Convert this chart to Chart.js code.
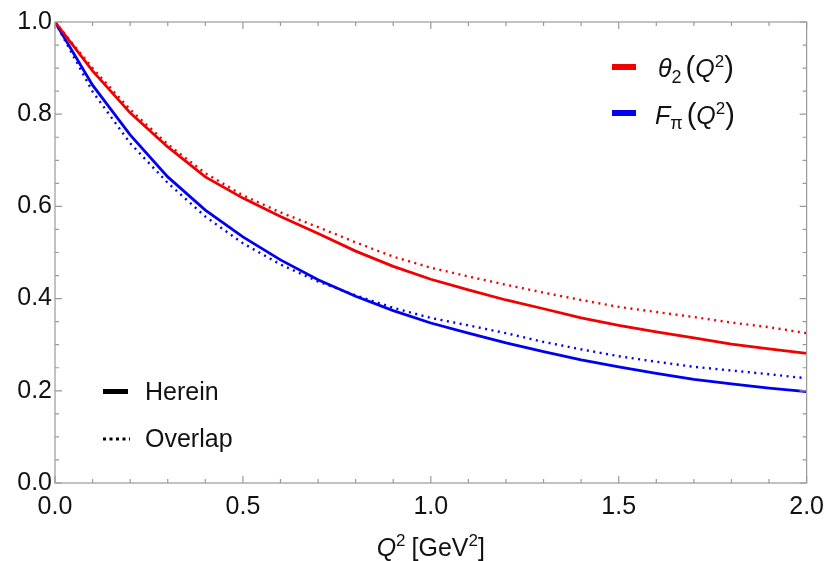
<!DOCTYPE html>
<html>
<head>
<meta charset="utf-8">
<script src="https://cdn.jsdelivr.net/npm/chart.js@4/dist/chart.umd.min.js"></script>
<style>
  html, body { margin: 0; padding: 0; background: #fff; }
  #wrap { width: 833px; height: 561px; }
</style>
</head>
<body>
<div id="wrap"><canvas id="c"></canvas></div>
<script>
// Q^2 grid (GeV^2)
const q2 = [0, 0.1, 0.2, 0.3, 0.4, 0.5, 0.6, 0.7, 0.8, 0.9, 1.0,
            1.1, 1.2, 1.3, 1.4, 1.5, 1.6, 1.7, 1.8, 1.9, 2.0];

// theta_2(Q^2), herein / overlap
const thetaHerein  = [1.0, 0.894, 0.803, 0.729, 0.664, 0.618, 0.578, 0.541, 0.503, 0.470, 0.442,
                      0.419, 0.397, 0.378, 0.358, 0.342, 0.328, 0.315, 0.301, 0.291, 0.281];
const thetaOverlap = [1.0, 0.900, 0.810, 0.735, 0.672, 0.624, 0.587, 0.555, 0.522, 0.491, 0.467,
                      0.448, 0.430, 0.413, 0.397, 0.382, 0.371, 0.360, 0.348, 0.338, 0.325];

// F_pi(Q^2), herein / overlap
const fpiHerein  = [1.0, 0.863, 0.755, 0.664, 0.592, 0.534, 0.484, 0.441, 0.405, 0.374, 0.347,
                    0.325, 0.304, 0.285, 0.267, 0.252, 0.238, 0.225, 0.215, 0.206, 0.198];
const fpiOverlap = [1.0, 0.849, 0.737, 0.651, 0.578, 0.520, 0.474, 0.437, 0.407, 0.380, 0.358,
                    0.342, 0.325, 0.306, 0.290, 0.275, 0.263, 0.252, 0.244, 0.236, 0.227];

const xTicks = [0, 0.5, 1.0, 1.5, 2.0];
const yTicks = [0, 0.2, 0.4, 0.6, 0.8, 1.0];

const RED = '#f00000';
const BLUE = '#0000f0';
const FONT = '"Liberation Sans", Arial, sans-serif';
const FS = 25;

function pts(ys) {
    return q2.map((x, i) => ({ x: x, y: ys[i] }));
}

// draws a run of text pieces (font, offset) one after another
function rich(ctx, x, y, parts, measureOnly) {
    let cx = x;
    parts.forEach(p => {
        ctx.font = p.f;
        if (!measureOnly) ctx.fillText(p.t, cx, y + (p.dy || 0));
        cx += ctx.measureText(p.t).width + (p.gap || 0);
    });
    return cx - x;
}

const it = s => 'italic ' + s + 'px ' + FONT;
const rm = s => s + 'px ' + FONT;

const framePlugin = {
    id: 'frame',
    afterDatasetsDraw(chart) {
        const ctx = chart.ctx;
        const a = chart.chartArea;
        const xs = chart.scales.x, ys = chart.scales.y;
        ctx.save();
        ctx.strokeStyle = '#9a9a9a';
        ctx.lineWidth = 1.2;
        ctx.strokeRect(a.left, a.top, a.right - a.left, a.bottom - a.top);

        ctx.beginPath();
        // x ticks, major every 0.5, minor every 0.1
        for (let k = 0; k <= 20; k++) {
            const px = xs.getPixelForValue(k / 10);
            const len = (k % 5 === 0) ? 7 : 4;
            ctx.moveTo(px, a.bottom); ctx.lineTo(px, a.bottom - len);
            ctx.moveTo(px, a.top); ctx.lineTo(px, a.top + len);
        }
        // y ticks, major every 0.2, minor every 0.05
        for (let k = 0; k <= 20; k++) {
            const py = ys.getPixelForValue(k / 20);
            const len = (k % 4 === 0) ? 7 : 4;
            ctx.moveTo(a.left, py); ctx.lineTo(a.left + len, py);
            ctx.moveTo(a.right, py); ctx.lineTo(a.right - len, py);
        }
        ctx.stroke();
        ctx.restore();
    },
    afterDraw(chart) {
        const ctx = chart.ctx;
        const a = chart.chartArea;
        ctx.save();
        ctx.textBaseline = 'alphabetic';
        ctx.textAlign = 'left';

        // top right legend
        ctx.fillStyle = RED;
        ctx.fillRect(612, 64, 24, 6);
        ctx.fillStyle = BLUE;
        ctx.fillRect(612, 110, 24, 6);
        ctx.fillStyle = '#111';
        rich(ctx, 658, 77, [
            { t: 'θ', f: it(FS) },
            { t: '2', f: rm(18), dy: 6, gap: 4 },
            { t: '(', f: rm(FS + 4) },
            { t: 'Q', f: it(FS) },
            { t: '2', f: rm(17), dy: -10 },
            { t: ')', f: rm(FS + 4) }
        ]);
        rich(ctx, 655, 124, [
            { t: 'F', f: it(FS) },
            { t: 'π', f: rm(18), dy: 5, gap: 4 },
            { t: '(', f: rm(FS + 4) },
            { t: 'Q', f: it(FS) },
            { t: '2', f: rm(17), dy: -10 },
            { t: ')', f: rm(FS + 4) }
        ]);

        // bottom left legend (line styles)
        ctx.fillStyle = '#000';
        ctx.fillRect(103, 389, 25, 5);
        ctx.strokeStyle = '#000';
        ctx.lineWidth = 3;
        ctx.setLineDash([3, 3.5]);
        ctx.beginPath();
        ctx.moveTo(103, 439); ctx.lineTo(130, 439);
        ctx.stroke();
        ctx.setLineDash([]);
        ctx.fillStyle = '#111';
        ctx.font = rm(FS);
        ctx.fillText('Herein', 145, 400);
        ctx.fillText('Overlap', 145, 447);

        // x axis title
        const title = [
            { t: 'Q', f: it(FS) },
            { t: '2', f: rm(17), dy: -10, gap: 6 },
            { t: '[GeV', f: rm(FS) },
            { t: '2', f: rm(17), dy: -10 },
            { t: ']', f: rm(FS) }
        ];
        const w = rich(ctx, 0, 0, title, true);
        rich(ctx, (a.left + a.right) / 2 - w / 2, 556, title);
        ctx.restore();
    }
};

const ctx = document.getElementById('c').getContext('2d');
const chart = new Chart(ctx, {
    type: 'line',
    data: {
        datasets: [
            { label: 'theta2 overlap', data: pts(thetaOverlap), borderColor: RED, borderWidth: 2.4, borderDash: [2, 4.5] },
            { label: 'Fpi overlap', data: pts(fpiOverlap), borderColor: BLUE, borderWidth: 2.4, borderDash: [2, 4.5] },
            { label: 'theta2 herein', data: pts(thetaHerein), borderColor: RED, borderWidth: 2.8 },
            { label: 'Fpi herein', data: pts(fpiHerein), borderColor: BLUE, borderWidth: 2.8 }
        ]
    },
    options: {
        responsive: true,
        maintainAspectRatio: false,
        animation: false,
        layout: { padding: { top: 22, right: 20, left: 0, bottom: 0 } },
        elements: {
            point: { radius: 0 },
            line: { tension: 0, fill: false }
        },
        plugins: {
            legend: { display: false },
            tooltip: { enabled: false }
        },
        scales: {
            x: {
                type: 'linear',
                min: 0, max: 2,
                afterBuildTicks: s => { s.ticks = xTicks.map(v => ({ value: v })); },
                afterFit: s => { s.height = 78; },
                grid: { display: false, drawTicks: false },
                border: { display: false },
                ticks: {
                    padding: 9,
                    color: '#111',
                    font: { family: FONT, size: FS },
                    callback: v => v.toFixed(1)
                }
            },
            y: {
                type: 'linear',
                min: 0, max: 1,
                afterBuildTicks: s => { s.ticks = yTicks.map(v => ({ value: v })); },
                afterFit: s => { s.width = 55; },
                grid: { display: false, drawTicks: false },
                border: { display: false },
                ticks: {
                    padding: 3,
                    color: '#111',
                    font: { family: FONT, size: FS },
                    callback: v => v.toFixed(1)
                }
            }
        }
    },
    plugins: [framePlugin]
});
</script>
</body>
</html>
